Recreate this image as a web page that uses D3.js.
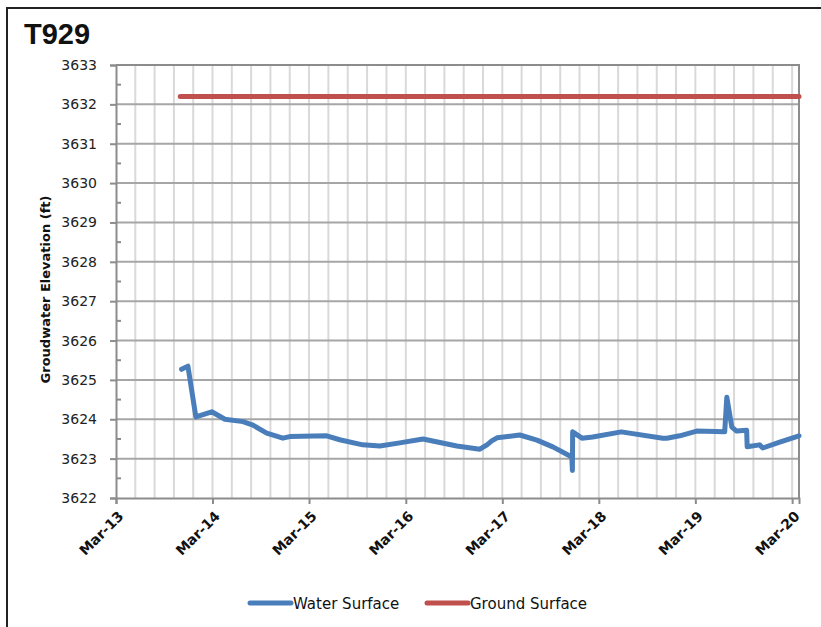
<!DOCTYPE html>
<html>
<head>
<meta charset="utf-8">
<script src="https://cdn.jsdelivr.net/npm/d3@7"></script>
<style>
  html, body { margin: 0; padding: 0; background: #fff; }
  svg { display: block; font-family: "DejaVu Sans", sans-serif; }
</style>
</head>
<body>
<svg id="chart" width="821" height="627"></svg>
<script>
// Well T929: water surface vs. ground surface elevation
const title = "T929";
const yTitle = "Groudwater Elevation (ft)";

const waterDates = [
  "2013-11-04", "2013-11-28", "2013-12-28", "2014-02-26", "2014-04-17",
  "2014-06-24", "2014-08-01", "2014-09-22", "2014-11-22", "2014-12-18",
  "2015-05-07", "2015-06-25", "2015-09-20", "2015-11-24", "2016-02-07",
  "2016-05-05", "2016-09-10", "2016-12-06", "2017-01-02", "2017-01-20",
  "2017-02-09", "2017-05-06", "2017-07-10", "2017-09-08", "2017-11-19",
  "2017-11-21", "2017-11-22", "2017-12-27", "2018-02-06", "2018-05-25",
  "2018-10-29", "2018-11-13", "2019-01-01", "2019-03-06", "2019-06-20",
  "2019-06-28", "2019-07-17", "2019-08-04", "2019-09-11", "2019-09-13",
  "2019-10-30", "2019-11-11", "2020-01-14", "2020-03-27"
];
const waterValues = [
  3625.27, 3625.35, 3624.06, 3624.19, 3624.00,
  3623.94, 3623.85, 3623.65, 3623.52, 3623.56,
  3623.58, 3623.48, 3623.35, 3623.32, 3623.40,
  3623.50, 3623.32, 3623.24, 3623.35, 3623.45,
  3623.53, 3623.60, 3623.47, 3623.30, 3623.04,
  3622.70, 3623.68, 3623.52, 3623.55, 3623.68,
  3623.52, 3623.52, 3623.58, 3623.70, 3623.68,
  3624.56, 3623.80, 3623.70, 3623.72, 3623.30,
  3623.35, 3623.27, 3623.42, 3623.58
];

const groundDates = ["2013-10-30", "2020-03-27"];
const groundValues = [3632.2, 3632.2];

const yTicks = [3622, 3623, 3624, 3625, 3626, 3627, 3628, 3629, 3630, 3631, 3632, 3633];
const xTickDates = ["2013-03-01", "2014-03-01", "2015-03-01", "2016-03-01",
                    "2017-03-01", "2018-03-01", "2019-03-01", "2020-03-01"];
const xDomain = ["2013-03-01", "2020-03-27"];

const seriesNames = ["Water Surface", "Ground Surface"];
const seriesColors = ["#4a7ebb", "#c0504d"];

const parse = d3.utcParse("%Y-%m-%d");
const fmt = d3.utcFormat("%b-%y");

const svg = d3.select("#chart");
const plot = { left: 116, right: 799, top: 65, bottom: 498 };

const x = d3.scaleUtc().domain(xDomain.map(parse)).range([plot.left, plot.right]);
const y = d3.scaleLinear().domain([3622, 3633]).range([plot.bottom, plot.top]);

// outer chart frame
svg.append("rect")
  .attr("x", 7).attr("y", 8).attr("width", 830).attr("height", 640)
  .attr("fill", "none").attr("stroke", "#222").attr("stroke-width", 2);

// title
svg.append("text")
  .attr("x", 24).attr("y", 44)
  .style("font-family", "'Liberation Sans', Arial, sans-serif")
  .attr("font-size", 29).attr("font-weight", "bold")
  .attr("fill", "#111")
  .text(title);

// vertical gridlines: each year split in five
const majors = xTickDates.map(parse);
const gridX = [];
for (let i = 0; i < majors.length; i++) {
  const a = x(majors[i]);
  const b = i + 1 < majors.length ? x(majors[i + 1]) : a + (x(majors[1]) - x(majors[0]));
  for (let k = 0; k < 5; k++) {
    const px = a + (b - a) * k / 5;
    if (px > plot.left + 1 && px < plot.right - 1) gridX.push(px);
  }
}
svg.append("g").selectAll("line").data(gridX).join("line")
  .attr("x1", d => d).attr("x2", d => d)
  .attr("y1", plot.top).attr("y2", plot.bottom)
  .attr("stroke", "#d9d9d9").attr("stroke-width", 2);

// horizontal gridlines
svg.append("g").selectAll("line").data(yTicks.slice(1)).join("line")
  .attr("x1", plot.left).attr("x2", plot.right)
  .attr("y1", d => y(d)).attr("y2", d => y(d))
  .attr("stroke", "#a6a6a6").attr("stroke-width", 2);

// plot frame (top / right)
svg.append("path")
  .attr("d", `M${plot.left},${plot.top}H${plot.right}V${plot.bottom}`)
  .attr("fill", "none").attr("stroke", "#8c8c8c").attr("stroke-width", 2);

// y axis
const yAxis = svg.append("g").attr("transform", `translate(${plot.left},0)`)
  .call(d3.axisLeft(y).tickValues(yTicks).tickSize(6).tickPadding(13).tickFormat(d3.format("d")));
yAxis.attr("font-family", null);
yAxis.select(".domain").attr("stroke", "#8c8c8c").attr("stroke-width", 2);
yAxis.selectAll(".tick line").attr("stroke", "#8c8c8c").attr("stroke-width", 2);
yAxis.selectAll(".tick text")
  .style("font-family", "'DejaVu Sans', sans-serif").attr("font-size", 14).attr("fill", "#222");

// y minor ticks at half units
const minorY = yTicks.slice(0, -1).map(d => d + 0.5);
svg.append("g").selectAll("line").data(minorY).join("line")
  .attr("x1", plot.left).attr("x2", plot.left + 5)
  .attr("y1", d => y(d)).attr("y2", d => y(d))
  .attr("stroke", "#8c8c8c").attr("stroke-width", 2);

// x axis
const xAxis = svg.append("g").attr("transform", `translate(0,${plot.bottom})`)
  .call(d3.axisBottom(x).tickValues(majors).tickSize(6).tickFormat(fmt));
xAxis.attr("font-family", null);
xAxis.select(".domain").attr("stroke", "#8c8c8c").attr("stroke-width", 2);
xAxis.selectAll(".tick line").attr("stroke", "#8c8c8c").attr("stroke-width", 2);
xAxis.selectAll(".tick text")
  .style("font-family", "'DejaVu Sans', sans-serif").attr("font-size", 14)
  .attr("font-weight", "bold").attr("fill", "#111")
  .attr("text-anchor", "end").attr("dy", null)
  .attr("transform", "translate(8,19) rotate(-45)")
  .attr("y", 0).attr("x", 0);

// y axis title
svg.append("text")
  .attr("transform", `translate(50,${(plot.top + plot.bottom) / 2 + 8}) rotate(-90)`)
  .attr("text-anchor", "middle")
  .attr("font-size", 13).attr("font-weight", "bold").attr("fill", "#111")
  .text(yTitle);

// series
const line = d3.line().x(d => x(d[0])).y(d => y(d[1]));
const water = waterDates.map((d, i) => [parse(d), waterValues[i]]);
const ground = groundDates.map((d, i) => [parse(d), groundValues[i]]);

svg.append("path").datum(ground)
  .attr("d", line).attr("fill", "none")
  .attr("stroke", seriesColors[1]).attr("stroke-width", 5).attr("stroke-linecap", "round");

svg.append("path").datum(water)
  .attr("d", line).attr("fill", "none")
  .attr("stroke", seriesColors[0]).attr("stroke-width", 5)
  .attr("stroke-linejoin", "round").attr("stroke-linecap", "round");

// legend
const legendX = [250, 427];
const lg = svg.append("g");
seriesNames.forEach((name, i) => {
  lg.append("line")
    .attr("x1", legendX[i]).attr("x2", legendX[i] + 41)
    .attr("y1", 603).attr("y2", 603)
    .attr("stroke", seriesColors[i]).attr("stroke-width", 5).attr("stroke-linecap", "round");
  lg.append("text")
    .attr("x", legendX[i] + 43).attr("y", 609)
    .attr("font-size", 15).attr("fill", "#111")
    .text(name);
});
</script>
</body>
</html>
